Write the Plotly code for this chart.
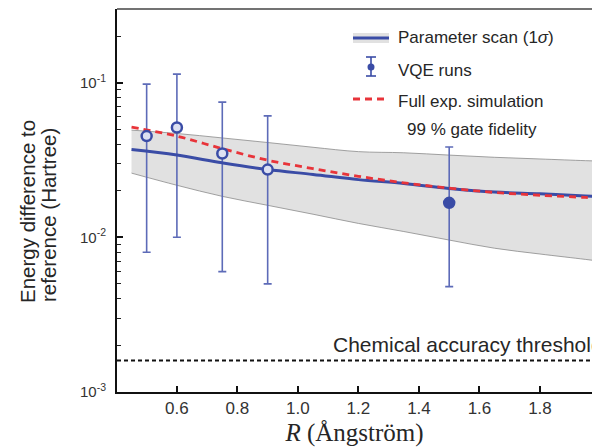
import plotly.graph_objects as go

# ---------------- data ----------------
R_curve = [0.45, 0.6, 0.75, 0.9, 1.05, 1.2, 1.35, 1.5, 1.65, 1.8, 1.95, 2.0]
scan_mean = [0.0369, 0.0340, 0.0303, 0.0274, 0.0255, 0.0236, 0.0223, 0.0207, 0.0196, 0.0191, 0.0185, 0.0183]
scan_upper = [0.0493, 0.0469, 0.0439, 0.0410, 0.0382, 0.0358, 0.0352, 0.0340, 0.0329, 0.0321, 0.0313, 0.0311]
scan_lower = [0.0260, 0.0217, 0.0184, 0.0161, 0.0141, 0.0123, 0.0109, 0.0096, 0.0085, 0.0078, 0.0072, 0.0070]
sim_full = [0.0515, 0.0451, 0.0374, 0.0315, 0.0278, 0.0248, 0.0225, 0.0208, 0.0195, 0.0187, 0.0181, 0.0179]

vqe_R = [0.5, 0.6, 0.75, 0.9, 1.5]
vqe_E = [0.0451, 0.0513, 0.0348, 0.0274, 0.0167]
vqe_hi = [0.0978, 0.1135, 0.0748, 0.0610, 0.0384]
vqe_lo = [0.0080, 0.0100, 0.0060, 0.0050, 0.0048]
vqe_filled = [False, False, False, False, True]

threshold = 0.0016
x_range = [0.402, 1.972]
x_ticks = [0.6, 0.8, 1.0, 1.2, 1.4, 1.6, 1.8]
x_ticktext = ["0.6", "0.8", "1.0", "1.2", "1.4", "1.6", "1.8"]
y_ticks = [0.001, 0.01, 0.1]
y_ticktext = ["10<sup>-3</sup>", "10<sup>-2</sup>", "10<sup>-1</sup>"]
y_minor = [m * d for d in (0.001, 0.01, 0.1) for m in range(2, 10) if m * d < 0.29]

BLUE = "#3a4ca6"
BAR = "#5d6bb8"
RED = "#e8343a"
GRAY = "#e1e1e1"
SANS = "Liberation Sans, Arial, sans-serif"
TXT = "#262626"

fig = go.Figure()

# band
fig.add_trace(go.Scatter(x=R_curve, y=scan_lower, mode="lines", line=dict(color="#8a8a8a", width=0.8, shape="spline"),
                         showlegend=False, hoverinfo="skip"))
fig.add_trace(go.Scatter(x=R_curve, y=scan_upper, mode="lines", line=dict(color="#8a8a8a", width=0.8, shape="spline"),
                         fill="tonexty", fillcolor=GRAY, showlegend=False, hoverinfo="skip"))

# threshold
fig.add_trace(go.Scatter(x=x_range, y=[threshold, threshold], mode="lines",
                         line=dict(color="#111111", width=2, dash="4px,3px"), showlegend=False))

# VQE error bars (no markers)
err_up = [h - v for h, v in zip(vqe_hi, vqe_E)]
err_dn = [v - l for v, l in zip(vqe_E, vqe_lo)]
fig.add_trace(go.Scatter(x=vqe_R, y=vqe_E, mode="markers", marker=dict(size=1, opacity=0),
                         error_y=dict(type="data", symmetric=False, array=err_up, arrayminus=err_dn,
                                      color=BAR, thickness=1.6, width=4),
                         showlegend=False))

# parameter scan mean
fig.add_trace(go.Scatter(x=R_curve, y=scan_mean, mode="lines", line=dict(color=BLUE, width=3, shape="spline"),
                         showlegend=False))
# full simulation
fig.add_trace(go.Scatter(x=R_curve, y=sim_full, mode="lines",
                         line=dict(color=RED, width=2.8, dash="7px,5px", shape="spline"), showlegend=False))

# VQE markers
fig.add_trace(go.Scatter(x=vqe_R, y=vqe_E, mode="markers",
                         marker=dict(size=10, symbol="circle",
                                     color=[BLUE if f else "#dde1f2" for f in vqe_filled],
                                     line=dict(color=BLUE, width=2.5)),
                         showlegend=False))

L, T, W, H = 117, 9, 475, 383


def px(x):
    return (x - L) / W


def py(y):
    return (T + H - y) / H


shapes = [
    dict(type="line", xref="paper", yref="paper", x0=0, x1=1, y0=1, y1=1, line=dict(color="#444", width=1.5)),
    # legend: parameter scan
    dict(type="rect", xref="paper", yref="paper", x0=px(353), x1=px(389), y0=py(43), y1=py(33),
         fillcolor=GRAY, line=dict(width=0), layer="above"),
    dict(type="line", xref="paper", yref="paper", x0=px(353), x1=px(389), y0=py(38), y1=py(38),
         line=dict(color=BLUE, width=3), layer="above"),
    # legend: VQE
    dict(type="line", xref="paper", yref="paper", x0=px(371), x1=px(371), y0=py(57), y1=py(76),
         line=dict(color=BLUE, width=1.6), layer="above"),
    dict(type="line", xref="paper", yref="paper", x0=px(366), x1=px(376), y0=py(57), y1=py(57),
         line=dict(color=BLUE, width=1.6), layer="above"),
    dict(type="line", xref="paper", yref="paper", x0=px(366), x1=px(376), y0=py(76), y1=py(76),
         line=dict(color=BLUE, width=1.6), layer="above"),
    dict(type="circle", xref="paper", yref="paper", x0=px(367.5), x1=px(374.5), y0=py(70.5), y1=py(63.5),
         fillcolor=BLUE, line=dict(width=0), layer="above"),
    # legend: simulation
    dict(type="line", xref="paper", yref="paper", x0=px(353), x1=px(389), y0=py(99), y1=py(99),
         line=dict(color=RED, width=2.8, dash="7px,5px"), layer="above"),
]

annotations = [
    dict(xref="paper", yref="paper", x=px(396), y=py(37), xanchor="left", yanchor="middle", showarrow=False,
         text="Parameter scan (1<i>σ</i>)", font=dict(family=SANS, size=17, color=TXT)),
    dict(xref="paper", yref="paper", x=px(396), y=py(70), xanchor="left", yanchor="middle", showarrow=False,
         text="VQE runs", font=dict(family=SANS, size=17, color=TXT)),
    dict(xref="paper", yref="paper", x=px(396), y=py(101.5), xanchor="left", yanchor="middle", showarrow=False,
         text="Full exp. simulation", font=dict(family=SANS, size=17, color=TXT)),
    dict(xref="paper", yref="paper", x=px(405), y=py(129.5), xanchor="left", yanchor="middle", showarrow=False,
         text="99 % gate fidelity", font=dict(family=SANS, size=17, color=TXT)),
    dict(xref="paper", yref="paper", x=px(331), y=py(344), xanchor="left", yanchor="middle", showarrow=False,
         text="Chemical accuracy threshold", font=dict(family=SANS, size=21, color=TXT)),
    dict(xref="paper", yref="paper", x=px(27), y=py(212), xanchor="center", yanchor="middle", showarrow=False,
         textangle=-90, text="Energy difference to", font=dict(family=SANS, size=20.5, color=TXT)),
    dict(xref="paper", yref="paper", x=px(48), y=py(215), xanchor="center", yanchor="middle", showarrow=False,
         textangle=-90, text="reference (Hartree)", font=dict(family=SANS, size=20.5, color=TXT)),
]

fig.update_layout(
    width=592, height=447,
    margin=dict(l=L, r=0, t=T, b=447 - T - H, autoexpand=False),
    paper_bgcolor="white", plot_bgcolor="white",
    showlegend=False,
    shapes=shapes, annotations=annotations,
    xaxis=dict(range=x_range, showgrid=False, zeroline=False, showline=True, linecolor="#111", linewidth=2,
               ticks="inside", ticklen=6, tickwidth=1.5, tickcolor="#111",
               tickmode="array", tickvals=x_ticks, ticktext=x_ticktext,
               tickfont=dict(family=SANS, size=17, color="#333"),
               title=dict(text="<i>R</i> (Ångström)", standoff=11,
                          font=dict(family="Liberation Serif, Times New Roman, serif", size=25, color=TXT))),
    yaxis=dict(type="log", range=[-3, -0.524], showgrid=False, showline=True, linecolor="#111", linewidth=2,
               ticks="inside", ticklen=6, tickwidth=1.5, tickcolor="#111",
               tickmode="array", tickvals=y_ticks, ticktext=y_ticktext, ticklabelstandoff=6,
               tickfont=dict(family=SANS, size=15, color="#333"),
               minor=dict(tickmode="array", tickvals=y_minor, ticks="inside", ticklen=3.5, tickwidth=1,
                          tickcolor="#222", showgrid=False)),
)

fig.write_html("out.html")
